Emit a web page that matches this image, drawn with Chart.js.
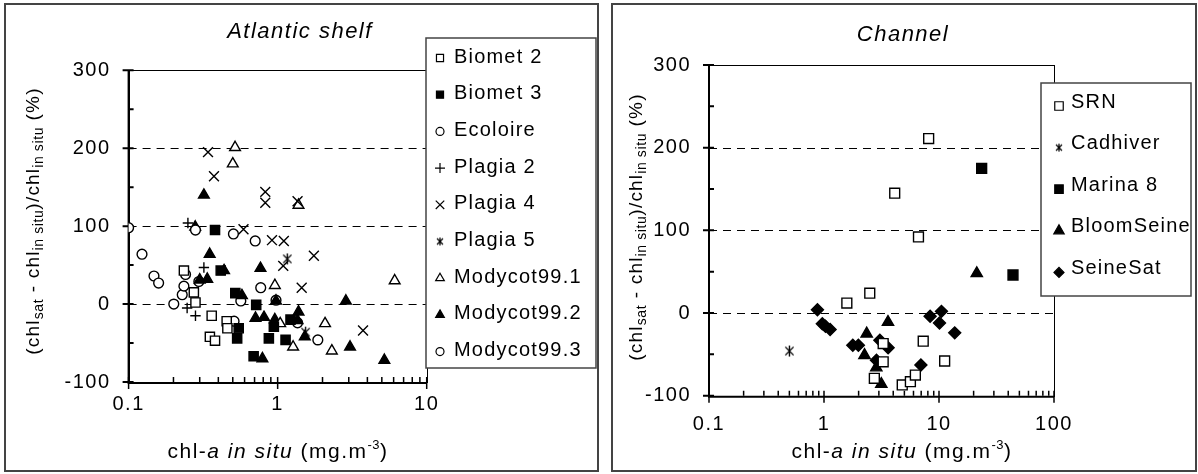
<!DOCTYPE html>
<html>
<head>
<meta charset="utf-8">
<script src="https://cdn.jsdelivr.net/npm/chart.js@4/dist/chart.umd.min.js"></script>
<style>
  body { margin: 0; background: #fff; width: 1198px; height: 474px; position: relative; overflow: hidden; }
  .wrap { position: absolute; top: 0; height: 474px; }
  .frame { position: absolute; border: 2px solid #444; box-sizing: border-box; pointer-events: none; }
</style>
</head>
<body>
<div class="wrap" style="left:0;width:604px"><canvas id="atlantic" width="604" height="474"></canvas></div>
<div class="wrap" style="left:604px;width:594px"><canvas id="channel" width="594" height="474"></canvas></div>
<div class="frame" style="left:4px;top:3px;width:595px;height:469px"></div>
<div class="frame" style="left:611px;top:3px;width:586px;height:469px"></div>
<script>
// ---- data: [chl-a in situ (mg.m-3), relative difference (%)] ----
// Atlantic shelf
const biomet2 = [[0.235, 43], [0.274, 15], [0.281, 2], [0.361, -15], [0.351, -42], [0.38, -47], [0.455, -22], [0.46, -31]];
const biomet3 = [[0.38, 95], [0.415, 43], [0.52, 14], [0.548, -31], [0.535, -44], [0.718, -1], [0.943, -29], [0.873, -44], [1.13, -46], [0.69, -67], [1.22, -20]];
const ecoloire = [[0.1, 98], [0.123, 64], [0.148, 36], [0.159, 27], [0.201, 0], [0.229, 12], [0.235, 23], [0.241, 38], [0.281, 95]];
const plagia2 = [[0.25, 104], [0.32, 47], [0.247, -5], [0.281, -15]];
const plagia4 = [[0.341, 195], [0.374, 164], [0.826, 144], [0.826, 130], [1.36, 132], [0.59, 96], [0.916, 82], [1.1, 81], [1.09, 49], [1.75, 62], [1.45, 21], [3.74, -34]];
const plagia5 = [[1.16, 58], [1.54, -36]];
const modycot991 = [[0.518, 201], [0.5, 180], [1.38, 127], [0.958, 24], [1.04, -25], [2.08, -25], [1.27, -55], [2.31, -60], [6.1, 30]];
const modycot992 = [[0.32, 140], [0.28, 99], [0.35, 64], [0.3, 31], [0.337, 32], [0.437, 43], [0.576, 11], [0.767, 46], [0.975, 4], [2.87, 4], [0.71, -18], [0.81, -17], [0.957, -20], [1.38, -10], [1.36, -21], [1.52, -42], [3.06, -55], [0.79, -70], [5.2, -72]];
const modycot993 = [[0.296, 29], [0.505, 90], [0.707, 81], [0.77, 21], [0.566, 4], [0.975, 5], [0.51, -22], [1.36, -24], [1.86, -46]];
// Channel
const srn = [[8.13, 211], [4.12, 145], [6.63, 92], [2.5, 24], [1.58, 12], [7.29, -34], [11.2, -58], [3.27, -37], [3.27, -59], [2.74, -79], [4.79, -87], [5.64, -83], [6.23, -75]];
const cadhiver = [[0.5, -46]];
const marina8 = [[23.5, 175], [44, 46]];
const bloomSeine = [[21.3, 48], [3.6, -11], [2.35, -25], [2.25, -51], [2.85, -66], [3.15, -86]];
const seineSat = [[0.877, 4], [0.967, -13], [1.03, -16], [1.13, -20], [1.78, -39], [1.99, -39], [3.06, -33], [3.61, -42], [2.86, -57], [6.96, -63], [8.37, -4], [10.5, 2], [10.1, -12], [13.7, -24]];

// axes
const yTicks = [-100, 0, 100, 200, 300];
const yMinorTicks = [-50, 50, 150, 250];
const dashedAt = [0, 100, 200];
const atlanticXTicks = [0.1, 1, 10];
const channelXTicks = [0.1, 1, 10, 100];

const FONT = "'Liberation Sans', Arial, sans-serif";

// six-armed asterisk marker (x with a vertical bar)
function makeStar(size, lw) {
  const c = document.createElement('canvas');
  c.width = size; c.height = size;
  const g = c.getContext('2d');
  g.strokeStyle = '#000';
  g.lineWidth = lw;
  const m = size / 2, r = size / 2 - 1, d = r * 0.75;
  g.beginPath();
  g.moveTo(m, m - r); g.lineTo(m, m + r);
  g.moveTo(m - d, m - d); g.lineTo(m + d, m + d);
  g.moveTo(m + d, m - d); g.lineTo(m - d, m + d);
  g.stroke();
  return c;
}

function series(label, pairs, pointStyle, radius, filled, legendRadius) {
  return {
    label: label,
    data: pairs.map(p => ({ x: p[0], y: p[1] })),
    pointStyle: pointStyle,
    pointRadius: radius,
    backgroundColor: filled ? '#000' : '#fff',
    borderColor: '#000',
    borderWidth: 1.4,
    legendRadius: legendRadius,
    legendStyle: pointStyle
  };
}

// draw a line of text made of several runs (italic, sub/superscript)
function drawRich(ctx, parts, cx, cy, rot, base) {
  ctx.save();
  ctx.translate(cx, cy);
  if (rot) ctx.rotate(rot);
  ctx.textAlign = 'left';
  ctx.textBaseline = 'alphabetic';
  ctx.fillStyle = '#000';
  let total = 0;
  parts.forEach(p => {
    ctx.font = p.f;
    ctx.letterSpacing = p.ls || '0px';
    p.w = ctx.measureText(p.t).width;
    total += p.w;
  });
  let x = -total / 2;
  parts.forEach(p => {
    ctx.font = p.f;
    ctx.letterSpacing = p.ls || '0px';
    ctx.fillText(p.t, x, (base || 0) + (p.dy || 0));
    x += p.w;
  });
  ctx.restore();
}

const main19 = '19px ' + FONT, sub14 = '14px ' + FONT;
const yTitleParts = () => [
  { t: '(chl', f: main19, ls: '1.2px' },
  { t: 'sat', f: sub14, ls: '0.6px', dy: 4 },
  { t: ' - chl', f: main19, ls: '1.2px' },
  { t: 'in situ', f: sub14, ls: '0.6px', dy: 4 },
  { t: ')/chl', f: main19, ls: '1.2px' },
  { t: 'in situ', f: sub14, ls: '0.6px', dy: 4 },
  { t: ' (%)', f: main19, ls: '1.2px' }
];
const main21 = '21px ' + FONT, ital21 = 'italic 21px ' + FONT, sup13 = '13px ' + FONT;
const xTitleParts = () => [
  { t: 'chl-', f: main21, ls: '1.5px' },
  { t: 'a', f: ital21, ls: '1.5px' },
  { t: ' ', f: main21, ls: '1.5px' },
  { t: 'in situ', f: ital21, ls: '1.5px' },
  { t: ' (mg.m', f: main21, ls: '1.5px' },
  { t: '-3', f: sup13, ls: '0.5px', dy: -9 },
  { t: ')', f: main21, ls: '1.5px' }
];

function panelPlugin(cfg) {
  return {
    id: 'panel_' + cfg.name,
    beforeDraw(chart) {
      chart.ctx.letterSpacing = '1.5px';
    },
    beforeDatasetsDraw(chart) {
      const ctx = chart.ctx, a = chart.chartArea, x = chart.scales.x, y = chart.scales.y;
      ctx.save();
      ctx.letterSpacing = '0px';
      ctx.strokeStyle = '#000';
      // dashed reference lines
      ctx.lineWidth = 1;
      ctx.setLineDash([8, 6]);
      dashedAt.forEach(v => {
        const py = Math.round(y.getPixelForValue(v)) + 0.5;
        ctx.beginPath(); ctx.moveTo(a.left, py); ctx.lineTo(a.right, py); ctx.stroke();
      });
      ctx.setLineDash([]);
      // plot box
      ctx.strokeRect(Math.round(a.left) + 0.5, Math.round(a.top) + 0.5, Math.round(a.right - a.left), Math.round(a.bottom - a.top));
      // axes and tick marks
      ctx.lineWidth = 2;
      ctx.beginPath();
      ctx.moveTo(a.left, a.top); ctx.lineTo(a.left, a.bottom + 1); ctx.lineTo(a.right, a.bottom + 1);
      yTicks.forEach(v => { const py = y.getPixelForValue(v); ctx.moveTo(a.left - 6, py); ctx.lineTo(a.left + 5, py); });
      yMinorTicks.forEach(v => { const py = y.getPixelForValue(v); ctx.moveTo(a.left, py); ctx.lineTo(a.left + 5, py); });
      ctx.stroke();
      ctx.lineWidth = 1.5;
      ctx.beginPath();
      cfg.xTicks.forEach((d, i) => {
        const px = x.getPixelForValue(d);
        ctx.moveTo(px, a.bottom - 5); ctx.lineTo(px, a.bottom + 7);
        if (i < cfg.xTicks.length - 1) {
          for (let k = 2; k <= 9; k++) {
            const mx = x.getPixelForValue(k * d);
            ctx.moveTo(mx, a.bottom - 5); ctx.lineTo(mx, a.bottom);
          }
        }
      });
      ctx.stroke();
      ctx.restore();
    },
    afterDatasetsDraw(chart) {
      const ctx = chart.ctx, L = cfg.legend;
      ctx.save();
      ctx.letterSpacing = '0px';
      // legend box
      ctx.fillStyle = '#fff';
      ctx.fillRect(L.x, L.y, L.w, L.h);
      ctx.strokeStyle = '#444';
      ctx.lineWidth = 1.5;
      ctx.strokeRect(L.x, L.y, L.w, L.h);
      chart.data.datasets.forEach((ds, i) => {
        const cy = L.firstY + i * L.step;
        ctx.fillStyle = ds.backgroundColor;
        ctx.strokeStyle = '#000';
        ctx.lineWidth = 1.2;
        const style = ds.legendStyle instanceof HTMLCanvasElement ? cfg.legendStar : ds.legendStyle;
        Chart.helpers.drawPoint(ctx, { pointStyle: style, radius: ds.legendRadius, borderWidth: 1.2, rotation: 0 }, L.markX, cy + L.markDy);
        ctx.fillStyle = '#000';
        ctx.font = '20px ' + FONT;
        ctx.letterSpacing = '1.2px';
        ctx.textAlign = 'left';
        ctx.textBaseline = 'middle';
        ctx.fillText(ds.label, L.textX, cy);
        ctx.letterSpacing = '0px';
      });
      ctx.restore();
    },
    afterDraw(chart) {
      const ctx = chart.ctx;
      ctx.letterSpacing = '0px';
      drawRich(ctx, [{ t: cfg.title, f: 'italic 22px ' + FONT, ls: '1.5px' }], cfg.titleX, cfg.titleY, 0, 8);
      drawRich(ctx, yTitleParts(), cfg.yTitleX, cfg.yTitleY, -Math.PI / 2, 6);
      drawRich(ctx, xTitleParts(), cfg.xTitleX, cfg.xTitleY, 0, 7);
    }
  };
}

function buildChart(id, datasets, cfg) {
  return new Chart(document.getElementById(id), {
    type: 'scatter',
    data: { datasets: datasets },
    options: {
      responsive: false,
      animation: false,
      events: [],
      layout: { padding: cfg.padding },
      plugins: { legend: { display: false }, tooltip: { enabled: false }, title: { display: false } },
      scales: {
        x: {
          type: 'logarithmic',
          min: cfg.xTicks[0],
          max: cfg.xTicks[cfg.xTicks.length - 1],
          border: { display: false },
          grid: { display: false, drawTicks: false },
          afterBuildTicks: s => { s.ticks = cfg.xTicks.map(v => ({ value: v })); },
          afterFit: s => { s.height = 40; },
          ticks: {
            autoSkip: false, maxRotation: 0, padding: cfg.xLabelPad, color: '#000',
            font: { family: FONT, size: 20 },
            callback: v => String(v)
          }
        },
        y: {
          min: -100,
          max: 300,
          border: { display: false },
          grid: { display: false, drawTicks: false },
          afterBuildTicks: s => { s.ticks = yTicks.map(v => ({ value: v })); },
          afterFit: s => { s.width = cfg.yWidth; },
          ticks: { padding: cfg.yLabelPad, color: '#000', font: { family: FONT, size: 20 } }
        }
      }
    },
    plugins: [panelPlugin(cfg)]
  });
}

const bigStar = makeStar(13, 1.4);
const smallStar = makeStar(10, 1.2);

buildChart('atlantic', [
  series('Biomet 2', biomet2, 'rect', 6.5, false, 5),
  series('Biomet 3', biomet3, 'rect', 6.5, true, 5),
  series('Ecoloire', ecoloire, 'circle', 4.9, false, 4),
  series('Plagia 2', plagia2, 'cross', 5.2, false, 5),
  series('Plagia 4', plagia4, 'crossRot', 7, false, 6),
  series('Plagia 5', plagia5, bigStar, 6, false, 5),
  series('Modycot99.1', modycot991, 'triangle', 6.2, false, 5),
  series('Modycot99.2', modycot992, 'triangle', 6.2, true, 5),
  series('Modycot99.3', modycot993, 'circle', 4.9, false, 4)
], {
  name: 'atlantic', title: 'Atlantic shelf', xTicks: atlanticXTicks,
  padding: { left: 0, top: 70.3, right: 177.3, bottom: 52 },
  yWidth: 128.6, yLabelPad: 18, xLabelPad: 10,
  titleX: 300, titleY: 30, yTitleX: 33, yTitleY: 221, xTitleX: 278, xTitleY: 451,
  legendStar: smallStar,
  legend: { x: 426, y: 38, w: 170, h: 330, firstY: 57, step: 36.7, markX: 440, markDy: 1, textX: 454 }
});

buildChart('channel', [
  series('SRN', srn, 'rect', 7, false, 6),
  series('Cadhiver', cadhiver, bigStar, 6, false, 5),
  series('Marina 8', marina8, 'rect', 7, true, 6),
  series('BloomSeine', bloomSeine, 'triangle', 6.5, true, 6),
  series('SeineSat', seineSat, 'rectRot', 6, true, 5)
], {
  name: 'channel', title: 'Channel', xTicks: channelXTicks,
  padding: { left: 0, top: 65, right: 144, bottom: 38.3 },
  yWidth: 105, yLabelPad: 18, xLabelPad: 17,
  titleX: 299, titleY: 33, yTitleX: 32, yTitleY: 227, xTitleX: 298, xTitleY: 451,
  legendStar: smallStar,
  legend: { x: 437, y: 83, w: 150, h: 213, firstY: 102, step: 41.6, markX: 455, markDy: 4, textX: 467 }
});
</script>
</body>
</html>
